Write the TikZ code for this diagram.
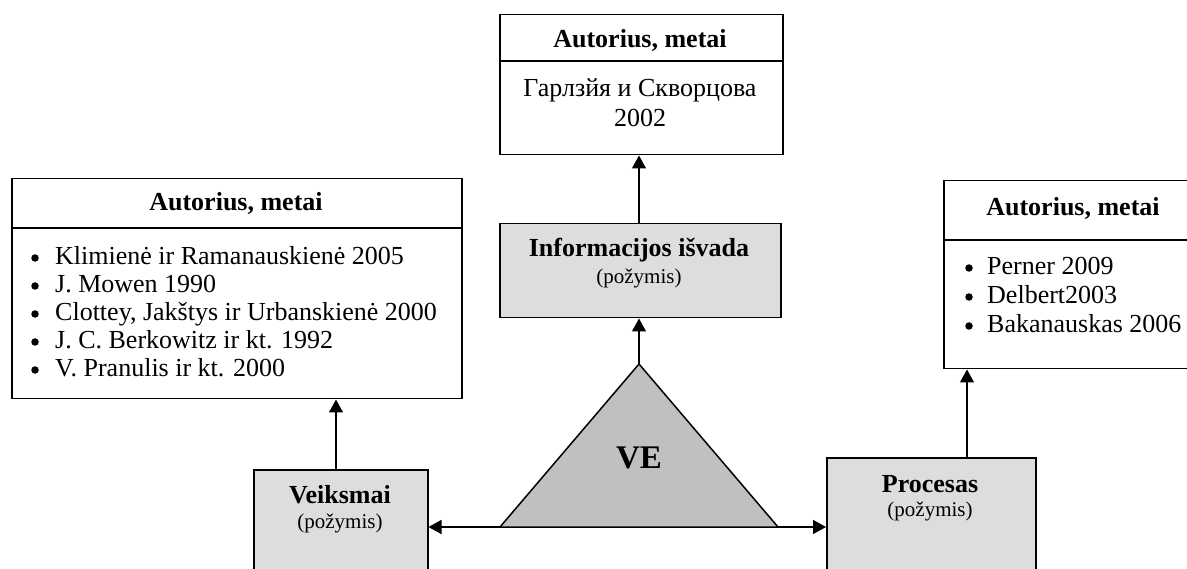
\documentclass[tikz,border=0pt]{standalone}
\usepackage{fontspec}
\setmainfont{Liberation Serif}
\usetikzlibrary{arrows.meta}
\definecolor{boxgray}{HTML}{DDDDDD}
\definecolor{trigray}{HTML}{C0C0C0}
\begin{document}
\begin{tikzpicture}[x=1pt,y=-1pt,
  every node/.style={font=\fontsize{26}{28}\selectfont, inner sep=0pt},
  box/.style={draw, line width=1.5pt, anchor=north west},
  gbox/.style={box, fill=boxgray},
  arr/.style={line width=1.3pt, -{Triangle[length=13pt,width=14pt]}},
  sepline/.style={line width=1.5pt},
  hdr/.style={font=\fontsize{26}{28}\selectfont\bfseries},
  small/.style={font=\fontsize{21}{24}\selectfont},
  item/.style={anchor=west, text height=19pt, text depth=6pt},
  bul/.style={circle, fill=black, minimum size=7.5pt}
]
\fill[white] (0,0) rectangle (1187,569);
\useasboundingbox (0,0) rectangle (1187,569);

% top box
\node[box, minimum width=283pt, minimum height=140pt] (T) at (499,14) {};
\draw[sepline] (T.west |- 0,61) -- (T.east |- 0,61);
\node[hdr] (Th) at (640,40) {Autorius, metai};
\node (Tt1) at (640,90) {Гарлзйя и Скворцова};
\node (Tt2) at (640,118) {2002};

% information box
\node[gbox, minimum width=281pt, minimum height=94pt] (I) at (499,223) {};
\node[hdr] (Ih) at (639,250) {Informacijos išvada};
\node[small] (Is) at (639,278) {(požymis)};

% left box
\node[box, minimum width=450pt, minimum height=220pt] (L) at (11,178) {};
\draw[sepline] (L.west |- 0,228) -- (L.east |- 0,228);
\node[hdr] (Lh) at (236,203) {Autorius, metai};
\foreach \t/\y [count=\i] in {Klimienė ir Ramanauskienė 2005/258, J. Mowen 1990/286, {Clottey, Jakštys ir Urbanskienė 2000}/314, J. C. Berkowitz ir kt. 1992/342, V. Pranulis ir kt. 2000/370}{
  \node[bul] (Lb\i) at (35,\y) {};
  \node[item] (Li\i) at (55,\y) {\t};
}

% right box
\node[box, minimum width=260pt, minimum height=188pt] (R) at (943,180) {};
\draw[sepline] (R.west |- 0,240) -- (R.east |- 0,240);
\node[hdr] (Rh) at (1073,208) {Autorius, metai};
\foreach \t/\y [count=\i] in {Perner 2009/268, Delbert2003/297, Bakanauskas 2006/326}{
  \node[bul] (Rb\i) at (969,\y) {};
  \node[item] (Ri\i) at (987,\y) {\t};
}

% Veiksmai box
\node[gbox, minimum width=174pt, minimum height=140pt] (V) at (253,469) {};
\node[hdr] (Vh) at (340,495) {Veiksmai};
\node[small] (Vs) at (340,523) {(požymis)};

% Procesas box
\node[gbox, minimum width=209pt, minimum height=150pt] (P) at (826,457) {};
\node[hdr] (Ph) at (930,484) {Procesas};
\node[small] (Ps) at (930,511) {(požymis)};

% triangle
\coordinate (apex) at (639,364);
\coordinate (bl) at (500,527);
\coordinate (br) at (778,527);
\draw[fill=trigray, line width=1.5pt, line join=miter] (apex) -- (bl) -- (br) -- cycle;
\node[font=\fontsize{33}{36}\selectfont\bfseries] (VE) at (639,458) {VE};

% connectors
\draw[arr] (I.north -| apex) -- (T.south -| apex);
\draw[arr] (apex) -- (I.south -| apex);
\draw[arr] (bl) -- (bl -| V.east);
\draw[arr] (br) -- (br -| P.west);
\draw[arr] (V.north -| 336,0) -- (L.south -| 336,0);
\draw[arr] (P.north -| 967,0) -- (R.south -| 967,0);
\end{tikzpicture}
\end{document}
